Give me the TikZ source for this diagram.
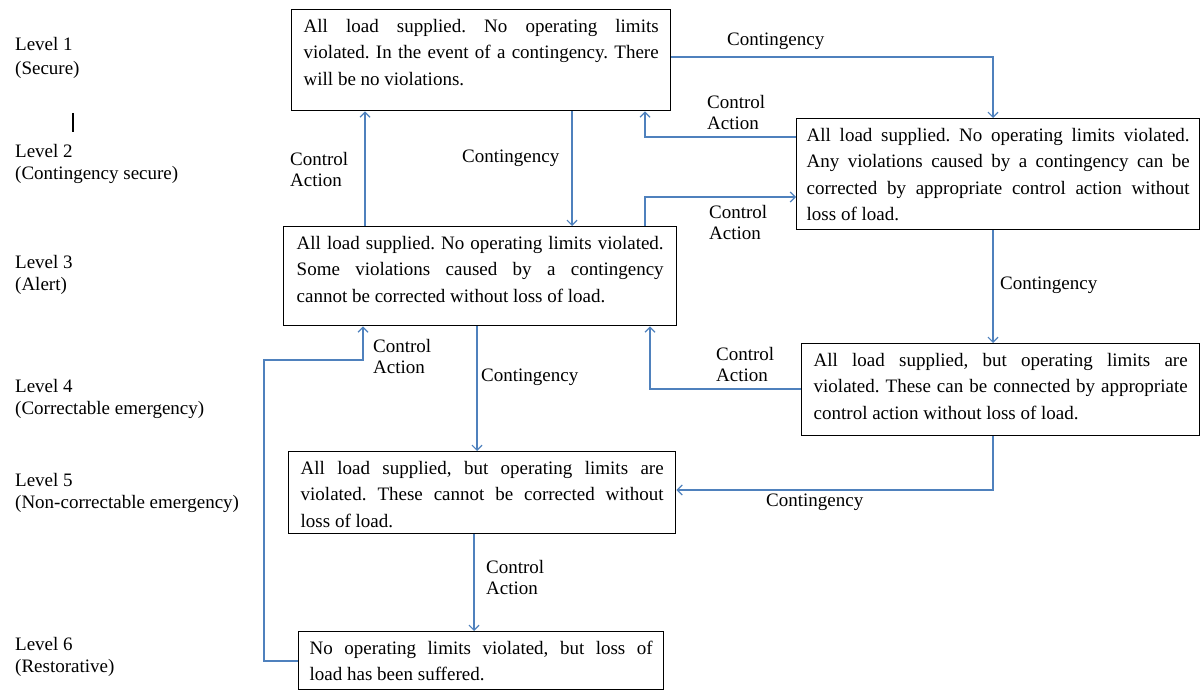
\documentclass[tikz,border=0pt]{standalone}
\usepackage{fontspec}
\setmainfont{Liberation Serif}
\newfontfamily\tnr{Liberation Serif}
\usetikzlibrary{arrows.meta}
\definecolor{arrblue}{RGB}{79,129,189}
\frenchspacing
\newcommand\lf{\tnr\fontsize{19}{21}\selectfont}
\newcommand\vf{\tnr\fontsize{19}{22}\selectfont}
\tikzset{
  box/.style={draw=black, line width=1.4pt, rectangle, anchor=north west, inner ysep=0pt, align=left},
  arr/.style={draw=arrblue, line width=1.2pt, -{Straight Barb[length=5pt,width=10pt,line width=1.2pt]}},
  lbl/.style={inner sep=0pt, anchor=west},
}
\newcommand\jl[1]{\makebox[\linewidth][s]{#1}}
\newcommand\bxt[3]{\parbox[c][#1][t]{#2}{\tnr\frenchspacing\fontsize{19}{26.5}\selectfont\vspace*{4pt}\strut #3}}
\newcommand\lt[1]{\parbox{300pt}{\lf #1}}
\newcommand\vt[1]{\parbox{300pt}{\vf #1}}
\begin{document}
\begin{tikzpicture}[x=1pt,y=-1pt]
\useasboundingbox (0,0) rectangle (1200,690);

% boxes
\node[box, inner xsep=12pt] (b1) at (291,9) {\bxt{101pt}{355pt}{\jl{All load supplied. No operating limits}\\\jl{violated. In the event of a contingency. There}\\will be no violations.}};
\node[box, inner xsep=10pt] (b2) at (796,118) {\bxt{111pt}{383pt}{\jl{All load supplied. No operating limits violated.}\\\jl{Any violations caused by a contingency can be}\\\jl{corrected by appropriate control action without}\\loss of load.}};
\node[box, inner xsep=13pt] (b3) at (283,226) {\bxt{99pt}{367pt}{\jl{All load supplied. No operating limits violated.}\\\jl{Some violations caused by a contingency}\\cannot be corrected without loss of load.}};
\node[box, inner xsep=12pt] (b4) at (801,343) {\bxt{92pt}{374pt}{\jl{All load supplied, but operating limits are}\\\jl{violated. These can be connected by appropriate}\\control action without loss of load.}};
\node[box, inner xsep=12pt] (b5) at (288,451) {\bxt{82pt}{363pt}{\jl{All load supplied, but operating limits are}\\\jl{violated. These cannot be corrected without}\\loss of load.}};
\node[box, inner xsep=11pt] (b6) at (298,631) {\bxt{58pt}{343pt}{\jl{No operating limits violated, but loss of}\\load has been suffered.}};

% level labels
\node[lbl] (l1) at (15,58) {\parbox{300pt}{\tnr\fontsize{19}{24}\selectfont Level 1\\(Secure)}};
\node[lbl] (l2) at (15,164) {\vt{Level 2\\(Contingency secure)}};
\node[lbl] (l3) at (15,275) {\vt{Level 3\\(Alert)}};
\node[lbl] (l4) at (15,399) {\vt{Level 4\\(Correctable emergency)}};
\node[lbl] (l5) at (15,493) {\vt{Level 5\\(Non-correctable emergency)}};
\node[lbl] (l6) at (15,657) {\vt{Level 6\\(Restorative)}};
\draw[line width=2.4pt] (73,113) -- (73,132);

% connectors
\draw[arr] (b1.east |- 0,57) -| (993,0 |- b2.north);
\draw[arr] (b2.west |- 0,137) -| (645,0 |- b1.south);
\draw[arr] (572,0 |- b1.south) -- (572,0 |- b3.north);
\draw[arr] (365,0 |- b3.north) -- (365,0 |- b1.south);
\draw[arr] (645,0 |- b3.north) |- (b2.west |- 0,197);
\draw[arr] (993,0 |- b2.south) -- (993,0 |- b4.north);
\draw[arr] (b4.west |- 0,389) -| (650,0 |- b3.south);
\draw[arr] (477,0 |- b3.south) -- (477,0 |- b5.north);
\draw[arr] (993,0 |- b4.south) |- (b5.east |- 0,490);
\draw[arr] (474,0 |- b5.south) -- (474,0 |- b6.north);
\draw[arr] (b6.west |- 0,661) -| (264,360) -| (363,0 |- b3.south);

% connector labels
\node[lbl] (c1) at (727,41) {\lt{Contingency}};
\node[lbl] (c2) at (707,113) {\lt{Control\\Action}};
\node[lbl] (c3) at (462,158) {\lt{Contingency}};
\node[lbl] (c4) at (290,170) {\lt{Control\\Action}};
\node[lbl] (c5) at (709,223) {\lt{Control\\Action}};
\node[lbl] (c6) at (1000,285) {\lt{Contingency}};
\node[lbl] (c7) at (716,364) {\lt{Control\\Action}};
\node[lbl] (c8) at (481,377) {\lt{Contingency}};
\node[lbl] (c9) at (766,502) {\lt{Contingency}};
\node[lbl] (c10) at (486,577) {\lt{Control\\Action}};
\node[lbl] (c11) at (373,356) {\lt{Control\\Action}};
\end{tikzpicture}
\end{document}
